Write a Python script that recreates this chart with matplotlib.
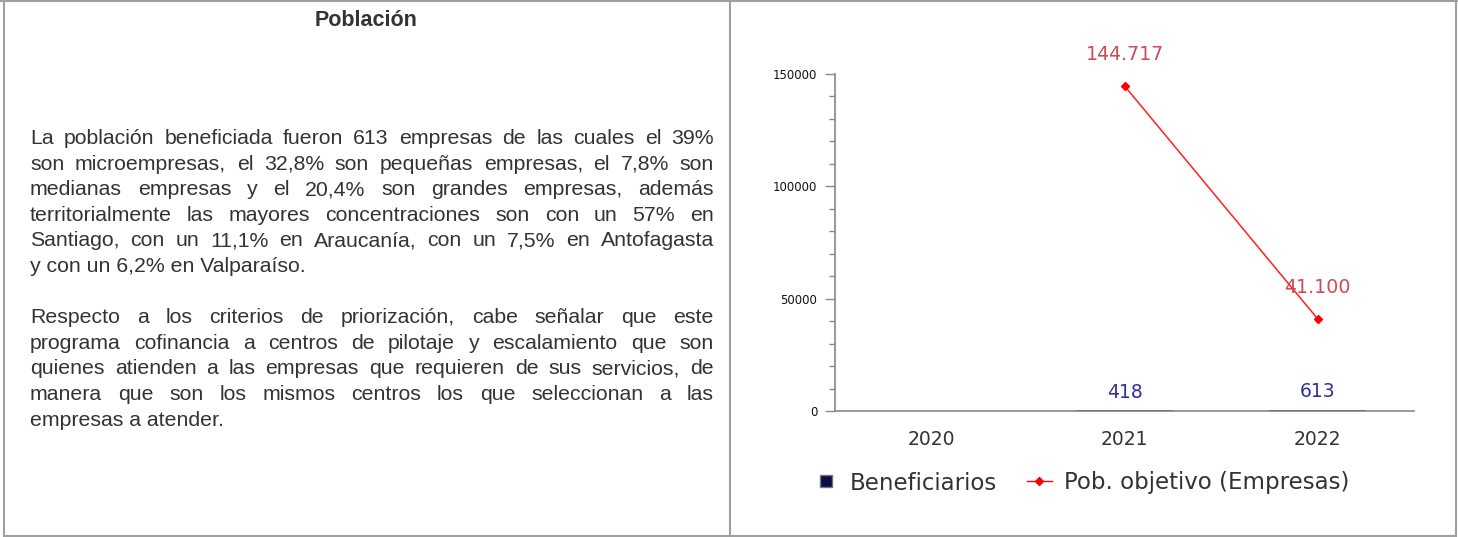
import numpy as np
import matplotlib
matplotlib.use('Agg')
import matplotlib.pyplot as plt
from matplotlib.lines import Line2D

W, H, DPI = 1458, 537, 100

# data
years = ['2020', '2021', '2022']
beneficiarios = [np.nan, 418, 613]
pob_objetivo = [np.nan, 144717, 41100]
benef_labels = ['', '418', '613']
pob_labels = ['', '144.717', '41.100']
y_ticks = [0, 50000, 100000, 150000]

title = 'Población'
paragraphs = [
    ['La población beneficiada fueron 613 empresas de las cuales el 39%',
     'son microempresas, el 32,8% son pequeñas empresas, el 7,8% son',
     'medianas empresas y el 20,4% son grandes empresas, además',
     'territorialmente las mayores concentraciones son con un 57% en',
     'Santiago, con un 11,1% en Araucanía, con un 7,5% en Antofagasta',
     'y con un 6,2% en Valparaíso.'],
    ['Respecto a los criterios de priorización, cabe señalar que este',
     'programa cofinancia a centros de pilotaje y escalamiento que son',
     'quienes atienden a las empresas que requieren de sus servicios, de',
     'manera que son los mismos centros los que seleccionan a las',
     'empresas a atender.'],
]

fig = plt.figure(figsize=(W / DPI, H / DPI), dpi=DPI)

# table borders
border = '#a0a0a0'
for x0, y0, x1, y1 in [(0, 1, W, 1), (4, 0, 4, H), (730, 0, 730, H),
                       (1456, 0, 1456, H), (4, 536, 1456, 536)]:
    fig.add_artist(Line2D([x0 / W, x1 / W], [1 - y0 / H, 1 - y1 / H],
                          color=border, lw=1.5))

# left cell: title + justified text
fig.text(366 / W, 1 - 20 / H, title, ha='center', va='center',
         fontsize=15.5, fontweight='bold', family='Liberation Sans', color='#333333')

fig.canvas.draw()
renderer = fig.canvas.get_renderer()
left, right = 30, 714
line_h = 25.6
y = 144
txt_kw = dict(fontsize=15.3, family='Liberation Sans', color='#333333', va='baseline', ha='left')
for lines in paragraphs:
    for i, line in enumerate(lines):
        if i == len(lines) - 1:
            fig.text(left / W, 1 - y / H, line, **txt_kw)
        else:
            words = line.split(' ')
            arts = [fig.text(0, 1 - y / H, w, **txt_kw) for w in words]
            widths = [a.get_window_extent(renderer).width for a in arts]
            gap = (right - left - sum(widths)) / (len(words) - 1)
            x = left
            for a, wd in zip(arts, widths):
                a.set_x(x / W)
                x += wd + gap
        y += line_h
    y += line_h

# right cell: chart
ax = fig.add_axes([835 / W, 1 - 411 / H, (1414 - 835) / W, (411 - 74) / H])
xpos = np.arange(len(years))
ax.bar(xpos, beneficiarios, width=0.5, color='#0b0b45', zorder=1)
ax.plot(xpos, pob_objetivo, color='#ff2020', lw=1.1, marker='D', ms=4,
        mfc='red', mec='red', zorder=3)

for xi, v, lab in zip(xpos, pob_objetivo, pob_labels):
    if lab:
        ax.annotate(lab, (xi, v), xytext=(0, 22.5), textcoords='offset points',
                    ha='center', va='center', fontsize=13.7, color='#d04a55',
                    annotation_clip=False)
for xi, v, lab in zip(xpos, beneficiarios, benef_labels):
    if lab:
        ax.annotate(lab, (xi, v), xytext=(0, 13), textcoords='offset points',
                    ha='center', va='center', fontsize=13.5, color='#30309a',
                    annotation_clip=False)

ax.set_xlim(-0.5, 2.5)
ax.set_ylim(0, 150000)
ax.set_xticks(xpos)
ax.set_xticklabels(years)
ax.set_yticks(y_ticks)
ax.set_yticklabels([str(t) for t in y_ticks])
ax.set_yticks(np.arange(0, 150001, 10000), minor=True)
for s in ['top', 'right']:
    ax.spines[s].set_visible(False)
for s in ['left', 'bottom']:
    ax.spines[s].set_color('#888888')
    ax.spines[s].set_linewidth(1.2)
ax.tick_params(axis='x', length=0, pad=14, labelsize=13.5, labelcolor='#333333')
ax.tick_params(axis='y', which='major', length=7.2, width=1, color='#888888',
               pad=5.5, labelsize=8.5, labelcolor='#111111')
ax.tick_params(axis='y', which='minor', length=4.3, width=1, color='#888888')

handles = [Line2D([], [], ls='', marker='s', ms=9, color='#0b0b45', mec='#777777'),
           Line2D([], [], color='red', lw=1, marker='D', ms=4)]
fig.legend(handles, ['Beneficiarios', 'Pob. objetivo (Empresas)'], ncol=2,
           loc='center', bbox_to_anchor=(1081 / W, 1 - 483 / H), frameon=False,
           fontsize=16.5, handlelength=1.1, handletextpad=0.5, columnspacing=1.3,
           labelcolor='#333333')

fig.savefig('out.png', dpi=DPI)
